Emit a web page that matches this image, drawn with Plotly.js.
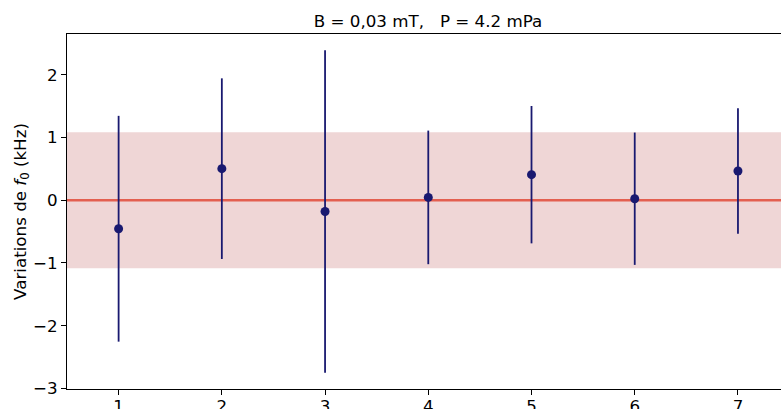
<!DOCTYPE html>
<html>
<head>
<meta charset="utf-8">
<script src="https://cdn.plot.ly/plotly-3.0.1.min.js"></script>
<style>html,body{margin:0;padding:0;background:#fff;}#chart{width:781px;height:409px;}</style>
</head>
<body>
<div id="chart"></div>
<script>
// Data
const runs = [1, 2, 3, 4, 5, 6, 7];
const deltaF0 = [-0.455, 0.503, -0.18, 0.045, 0.407, 0.024, 0.466];
const errF0 = [1.80, 1.44, 2.57, 1.065, 1.095, 1.055, 1.0];
const bandHalfWidth = 1.085;
const refLevel = 0;
const xTickVals = [1, 2, 3, 4, 5, 6, 7];
const yTickVals = [-3, -2, -1, 0, 1, 2];

const navy = '#191970';
const FS = 16.7;
const FONT = 'DejaVu Sans, sans-serif';
const traces = [{
  x: runs,
  y: deltaF0,
  type: 'scatter',
  mode: 'markers',
  marker: {color: navy, size: 9},
  error_y: {type: 'data', array: errF0, visible: true, color: navy, thickness: 1.8, width: 0},
  showlegend: false,
  hoverinfo: 'x+y'
}];

const layout = {
  width: 781,
  height: 409,
  paper_bgcolor: '#ffffff',
  plot_bgcolor: '#ffffff',
  margin: {l: 67, r: 0, t: 34, b: 20},
  font: {family: FONT, size: FS, color: '#000'},
  title: {
    text: 'B = 0,03 mT,\u00A0\u00A0 P = 4.2 mPa',
    font: {family: FONT, size: FS, color: '#000'},
    x: 0.548, xanchor: 'center', xref: 'container',
    y: 1 - 21 / 409, yanchor: 'middle', yref: 'container'
  },
  xaxis: {
    range: [0.5, 7.417],
    tickmode: 'array', tickvals: xTickVals, ticktext: xTickVals.map(String),
    ticks: 'outside', ticklen: 5, tickwidth: 1, tickcolor: '#000',
    ticklabelstandoff: -3,
    showline: true, linecolor: '#000', linewidth: 1, mirror: true,
    showgrid: false, zeroline: false,
    tickfont: {family: FONT, size: FS, color: '#000'}
  },
  yaxis: {
    range: [-3.01, 2.65],
    tickmode: 'array', tickvals: yTickVals,
    ticks: 'outside', ticklen: 5, tickwidth: 1, tickcolor: '#000',
    showline: true, linecolor: '#000', linewidth: 1,
    showgrid: false, zeroline: false,
    tickfont: {family: FONT, size: FS, color: '#000'},
    title: {
      text: 'Variations de <i>f</i><sub>0</sub> (kHz)',
      font: {family: FONT, size: FS, color: '#000'},
      standoff: 2
    }
  },
  shapes: [
    {type: 'rect', xref: 'paper', yref: 'y', x0: 0, x1: 1, y0: refLevel - bandHalfWidth, y1: refLevel + bandHalfWidth,
     fillcolor: '#efd6d6', line: {width: 0}, layer: 'below'},
    {type: 'line', xref: 'paper', yref: 'y', x0: 0, x1: 1, y0: refLevel, y1: refLevel,
     line: {color: '#e35f50', width: 2.5}, layer: 'below'}
  ]
};

Plotly.newPlot('chart', traces, layout, {staticPlot: true, displayModeBar: false});
</script>
</body>
</html>
